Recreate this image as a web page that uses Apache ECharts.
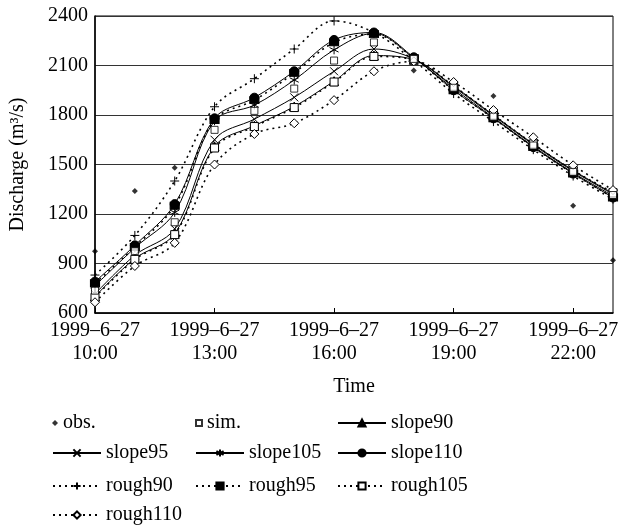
<!DOCTYPE html>
<html>
<head>
<meta charset="utf-8">
<script src="https://cdn.jsdelivr.net/npm/echarts@6/dist/echarts.min.js"></script>
<style>html,body{margin:0;padding:0;background:#fff;}#c{width:622px;height:526px;}</style>
</head>
<body>
<div id="c"></div>
<script>
const dateLabel = '1999–6–27';
const hours = ['10:00','11:00','12:00','13:00','14:00','15:00','16:00','17:00','18:00','19:00','20:00','21:00','22:00','23:00'];
const yTicks = [600, 900, 1200, 1500, 1800, 2100, 2400];

const obs      = [975, 1340, 1480, null, null, null, null, null, 2070, null, 1915, null, 1250, 920];
const sim      = [735, 975, 1150, 1710, 1825, 1960, 2130, 2240, 2140, 1965, 1790, 1615, 1455, 1315];
const slope90  = [700, 930, 1080, 1610, 1735, 1851, 2005, 2160, 2135, 1975, 1800, 1625, 1465, 1325];
const slope95  = [715, 950, 1110, 1650, 1775, 1907, 2065, 2200, 2140, 1970, 1795, 1620, 1460, 1320];
const slope105 = [765, 995, 1210, 1765, 1860, 2012, 2195, 2295, 2145, 1960, 1785, 1610, 1450, 1310];
const slope110 = [790, 1010, 1260, 1780, 1905, 2065, 2255, 2300, 2150, 1950, 1780, 1605, 1445, 1300];
const rough90  = [830, 1070, 1400, 1850, 2020, 2200, 2370, 2300, 2130, 1930, 1760, 1590, 1430, 1290];
const rough95  = [780, 1000, 1250, 1770, 1890, 2055, 2240, 2290, 2145, 1950, 1780, 1605, 1445, 1300];
const rough105 = [695, 925, 1075, 1600, 1730, 1845, 2000, 2155, 2135, 1975, 1800, 1625, 1465, 1330];
const rough110 = [665, 885, 1025, 1500, 1685, 1750, 1890, 2065, 2125, 2000, 1830, 1665, 1495, 1345];

const FONT = 'Liberation Serif';
const BLACK = '#000';
const X_PATH = 'path://M0,0L10,10M10,0L0,10';
const STAR_PATH = 'path://M5,0L5,10M0,2.5L10,7.5M0,7.5L10,2.5';
const PLUS_PATH = 'path://M5,0L5,10M0,5L10,5';

function lineSeries(name, data, symbol, size, open, dotted) {
  return {
    name: name, type: 'line', data: data, smooth: 0.35,
    symbol: symbol, symbolSize: size, showAllSymbol: true,
    lineStyle: { color: BLACK, width: dotted ? 1.6 : 1, type: dotted ? [2, 4] : 'solid' },
    itemStyle: { color: open ? '#fff' : BLACK, borderColor: BLACK, borderWidth: 1 },
    emphasis: { disabled: true }
  };
}

const series = [
  { name: 'obs.', type: 'scatter', data: obs, symbol: 'diamond', symbolSize: 6,
    itemStyle: { color: BLACK }, z: 5, emphasis: { disabled: true } },
  { name: 'sim.', type: 'scatter', data: sim, symbol: 'rect', symbolSize: 7,
    itemStyle: { color: '#fff', borderColor: BLACK, borderWidth: 1 }, z: 4, emphasis: { disabled: true } },
  lineSeries('slope90', slope90, 'triangle', 9, false, false),
  lineSeries('slope95', slope95, X_PATH, 8, false, false),
  lineSeries('slope105', slope105, STAR_PATH, 9, false, false),
  lineSeries('slope110', slope110, 'circle', 9, false, false),
  lineSeries('rough90', rough90, PLUS_PATH, 9, false, true),
  lineSeries('rough95', rough95, 'rect', [9, 7], false, true),
  lineSeries('rough105', rough105, 'rect', 8, true, true),
  lineSeries('rough110', rough110, 'diamond', 9, true, true)
];

const legendText = { fontFamily: FONT, fontSize: 20, color: BLACK, lineHeight: 20 };
const colLeft = [52, 195, 337];
const rowTop = [413, 443, 476, 505];
const legendItems = [
  ['obs.', 0, 0, 6, 6], ['sim.', 1, 0, 6, 6], ['slope90', 2, 0, 48, 9],
  ['slope95', 0, 1, 48, 9], ['slope105', 1, 1, 48, 9], ['slope110', 2, 1, 48, 9],
  ['rough90', 0, 2, 48, 9], ['rough95', 1, 2, 48, 9], ['rough105', 2, 2, 48, 9],
  ['rough110', 0, 3, 48, 9]
];
const legends = legendItems.map(function (it) {
  return {
    data: [it[0]], left: colLeft[it[1]], top: rowTop[it[2]],
    itemWidth: it[3], itemHeight: it[4], padding: 0, selectedMode: false,
    textStyle: legendText
  };
});

const chart = echarts.init(document.getElementById('c'), null, { renderer: 'canvas' });
chart.setOption({
  animation: false,
  backgroundColor: '#fff',
  grid: { left: 95, right: 9, top: 16, bottom: 213, show: true, borderColor: BLACK, borderWidth: 1 },
  legend: legends,
  xAxis: {
    type: 'category', data: hours, boundaryGap: false,
    name: 'Time', nameLocation: 'middle', nameGap: 64,
    nameTextStyle: { fontFamily: FONT, fontSize: 20, color: BLACK },
    axisLine: { lineStyle: { color: BLACK, width: 1.5 } },
    axisTick: { inside: true, interval: 2, length: 5, lineStyle: { color: BLACK } },
    axisLabel: {
      interval: 2, margin: 6, fontFamily: FONT, fontSize: 20, lineHeight: 23, color: BLACK,
      formatter: function (v) { return dateLabel + '\n' + v; }
    },
    splitLine: { show: false }
  },
  yAxis: {
    type: 'value', min: yTicks[0], max: yTicks[yTicks.length - 1], interval: yTicks[1] - yTicks[0],
    name: 'Discharge (m³/s)', nameLocation: 'middle', nameGap: 67, nameRotate: 90,
    nameTextStyle: { fontFamily: FONT, fontSize: 20, color: BLACK },
    axisLine: { show: true, lineStyle: { color: BLACK, width: 1.5 } },
    axisTick: { show: false },
    axisLabel: { margin: 7, fontFamily: FONT, fontSize: 20, color: BLACK,
      formatter: function (v) { return String(v); } },
    splitLine: { show: true, lineStyle: { color: '#333', width: 1 } }
  },
  series: series
});
</script>
</body>
</html>
